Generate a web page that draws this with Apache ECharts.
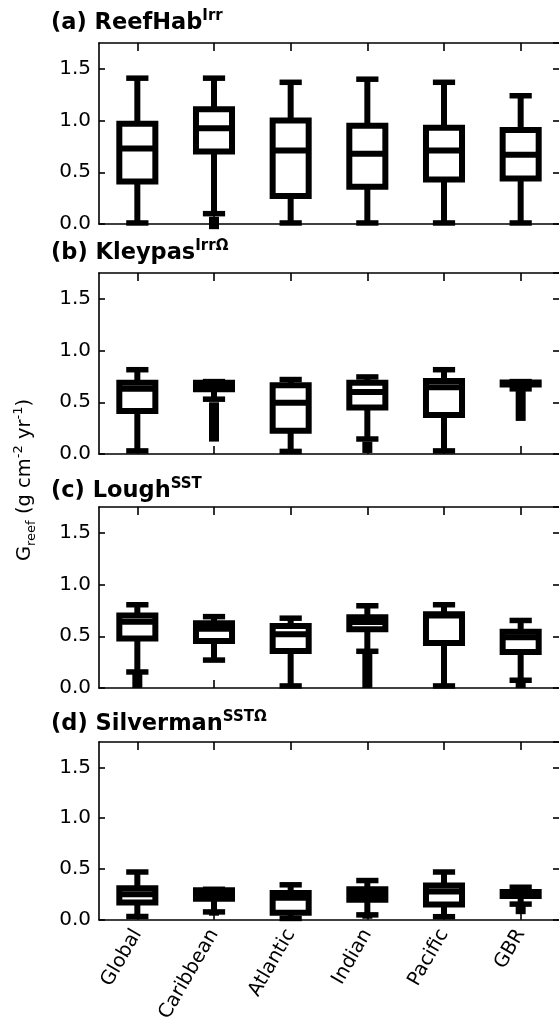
<!DOCTYPE html>
<html><head><meta charset="utf-8">
<script src="https://cdn.jsdelivr.net/npm/echarts@6/dist/echarts.min.js"></script>
<style>html,body{margin:0;padding:0;background:#fff;overflow:hidden}#c{width:559px;height:1025px}</style>
</head><body><div id="c"></div><script>
// ---------- data ----------
const categories = ['Global', 'Caribbean', 'Atlantic', 'Indian', 'Pacific', 'GBR'];
const yTickValues = [0, 0.5, 1.0, 1.5];
const panelNames = ['(a) ReefHab', '(b) Kleypas', '(c) Lough', '(d) Silverman'];
const panelSups = ['Irr', 'IrrΩ', 'SST', 'SSTΩ'];

// each row: [lower whisker, Q1, median, Q3, upper whisker]
const reefHabBoxes = [
  [0.01, 0.41, 0.73, 0.97, 1.41],
  [0.10, 0.70, 0.925, 1.11, 1.41],
  [0.01, 0.27, 0.71, 1.00, 1.37],
  [0.01, 0.36, 0.68, 0.95, 1.40],
  [0.01, 0.43, 0.71, 0.93, 1.37],
  [0.01, 0.44, 0.67, 0.91, 1.24]
];
// range covered by outliers: [lowest, highest] or null
const reefHabFliers = [null, [-0.05, 0.07], null, null, null, null];

const kleypasBoxes = [
  [0.03, 0.415, 0.63, 0.69, 0.815],
  [0.53, 0.627, 0.66, 0.69, 0.70],
  [0.025, 0.225, 0.495, 0.665, 0.72],
  [0.145, 0.45, 0.60, 0.69, 0.745],
  [0.03, 0.376, 0.645, 0.705, 0.815],
  [0.63, 0.672, 0.682, 0.692, 0.70]
];
const kleypasFliers = [null, [0.12, 0.50], null, [0.01, 0.12], null, [0.32, 0.61]];

const loughBoxes = [
  [0.155, 0.478, 0.64, 0.70, 0.805],
  [0.27, 0.455, 0.573, 0.625, 0.69],
  [0.02, 0.357, 0.52, 0.60, 0.675],
  [0.355, 0.567, 0.637, 0.685, 0.795],
  [0.02, 0.436, 0.70, 0.712, 0.805],
  [0.075, 0.347, 0.49, 0.545, 0.653]
];
const loughFliers = [[0.0, 0.14], null, null, [0.0, 0.34], null, [0.0, 0.065]];

const silvermanBoxes = [
  [0.032, 0.171, 0.25, 0.309, 0.47],
  [0.077, 0.206, 0.25, 0.29, 0.30],
  [0.013, 0.07, 0.216, 0.264, 0.344],
  [0.048, 0.196, 0.25, 0.30, 0.386],
  [0.03, 0.151, 0.277, 0.338, 0.47],
  [0.154, 0.235, 0.255, 0.273, 0.32]
];
const silvermanFliers = [null, [0.04, 0.07], null, [0.01, 0.04], null, [0.055, 0.14]];

const panelBoxes = [reefHabBoxes, kleypasBoxes, loughBoxes, silvermanBoxes];
const panelFliers = [reefHabFliers, kleypasFliers, loughFliers, silvermanFliers];

// ---------- layout ----------
const FONT = 'DejaVu Sans';
const gridTops = [43, 273, 507, 742];
const titleCenters = [23, 253, 491, 724];
const gridH = 181, gridLeft = 99, gridW = 463;
const LW = 6, CAP_LW = 5.5;

function renderBox(params, api) {
  const i = api.value(0);
  const lo = api.value(1), q1 = api.value(2), med = api.value(3), q3 = api.value(4), hi = api.value(5);
  const fLo = api.value(6), fHi = api.value(7);
  const band = api.size([1, 0])[0];
  const cx = api.coord([i, 0])[0];
  const y = v => api.coord([i, v])[1];
  const boxW = band * 0.47, capW = band * 0.29;
  const st = { stroke: '#000', lineWidth: LW, fill: 'none', lineCap: 'butt' };
  const cst = { stroke: '#000', lineWidth: CAP_LW, fill: 'none', lineCap: 'butt' };
  const ch = [];
  if (!isNaN(fLo) && !isNaN(fHi)) {
    ch.push({ type: 'rect', shape: { x: cx - 5, y: y(fHi), width: 10, height: y(fLo) - y(fHi) }, style: { fill: '#000' } });
  }
  ch.push({ type: 'line', shape: { x1: cx, y1: y(lo), x2: cx, y2: y(q1) }, style: st });
  ch.push({ type: 'line', shape: { x1: cx, y1: y(q3), x2: cx, y2: y(hi) }, style: st });
  ch.push({ type: 'line', shape: { x1: cx - capW / 2, y1: y(lo), x2: cx + capW / 2, y2: y(lo) }, style: cst });
  ch.push({ type: 'line', shape: { x1: cx - capW / 2, y1: y(hi), x2: cx + capW / 2, y2: y(hi) }, style: cst });
  ch.push({ type: 'rect', shape: { x: cx - boxW / 2, y: y(q3), width: boxW, height: y(q1) - y(q3) }, style: st });
  ch.push({ type: 'line', shape: { x1: cx - boxW / 2, y1: y(med), x2: cx + boxW / 2, y2: y(med) }, style: st });
  return { type: 'group', children: ch };
}

const grids = [], xAxes = [], yAxes = [], series = [], titles = [];
const axisLine = { show: true, onZero: false, lineStyle: { color: '#000', width: 1.6 } };
const tickStyle = { color: '#000', width: 1.6 };
gridTops.forEach((top, p) => {
  grids.push({ left: gridLeft, top: top, width: gridW, height: gridH });
  const last = p === gridTops.length - 1;
  xAxes.push({
    type: 'category', gridIndex: p, data: categories, position: 'bottom',
    axisLine: axisLine,
    axisTick: { show: true, inside: true, length: 8, alignWithLabel: true, lineStyle: tickStyle },
    axisLabel: { show: last, interval: 0, rotate: 60, margin: 11, color: '#000', fontSize: 19.5, fontFamily: FONT },
    splitLine: { show: false }
  });
  xAxes.push({
    type: 'category', gridIndex: p, data: categories, position: 'top',
    axisLine: axisLine,
    axisTick: { show: true, inside: true, length: 8, alignWithLabel: true, lineStyle: tickStyle },
    axisLabel: { show: false }, splitLine: { show: false }
  });
  const yCommon = {
    type: 'value', gridIndex: p, min: 0, max: 1.75, interval: 0.5,
    axisTick: { show: true, inside: true, length: 6, lineStyle: tickStyle },
    splitLine: { show: false }
  };
  yAxes.push(Object.assign({}, yCommon, {
    position: 'left', axisLine: axisLine,
    axisLabel: {
      show: true, margin: 8, color: '#000', fontSize: 20, fontFamily: FONT, showMaxLabel: false,
      formatter: v => (yTickValues.some(t => Math.abs(t - v) < 1e-9) ? v.toFixed(1) : '')
    }
  }));
  yAxes.push(Object.assign({}, yCommon, { position: 'right', axisLine: { show: false }, axisLabel: { show: false } }));

  const data = panelBoxes[p].map((b, i) => {
    const f = panelFliers[p][i];
    return [i, b[0], b[1], b[2], b[3], b[4], f ? f[0] : '-', f ? f[1] : '-'];
  });
  series.push({
    type: 'custom', xAxisIndex: p * 2, yAxisIndex: p * 2, renderItem: renderBox,
    encode: { x: 0, y: [1, 2, 3, 4, 5] }, clip: false, silent: true, data: data
  });

  titles.push({
    left: 51, top: titleCenters[p] - 14, padding: 0,
    text: '{b|' + panelNames[p] + '}{s|' + panelSups[p] + '}',
    textStyle: {
      rich: {
        b: { fontFamily: FONT, fontSize: 22.5, fontWeight: 'bold', color: '#000', lineHeight: 28 },
        s: { fontFamily: FONT, fontSize: 15, fontWeight: 'bold', color: '#000', verticalAlign: 'top', lineHeight: 28 }
      }
    }
  });
});

const chart = echarts.init(document.getElementById('c'), null, { renderer: 'canvas' });
chart.setOption({
  animation: false,
  backgroundColor: '#fff',
  title: titles,
  grid: grids,
  xAxis: xAxes,
  yAxis: yAxes,
  series: series,
  graphic: [{
    type: 'text', x: 25, y: 480, rotation: Math.PI / 2,
    style: {
      text: '{n|G}{sub|reef}{n| (g cm}{sup|-2}{n| yr}{sup|-1}{n|)}',
      align: 'center', verticalAlign: 'middle',
      rich: {
        n: { fontFamily: FONT, fontSize: 19.5, fill: '#000', lineHeight: 26 },
        sub: { fontFamily: FONT, fontSize: 13, fill: '#000', verticalAlign: 'bottom', lineHeight: 26 },
        sup: { fontFamily: FONT, fontSize: 13, fill: '#000', verticalAlign: 'top', lineHeight: 26 }
      }
    }
  }]
});
</script></body></html>
